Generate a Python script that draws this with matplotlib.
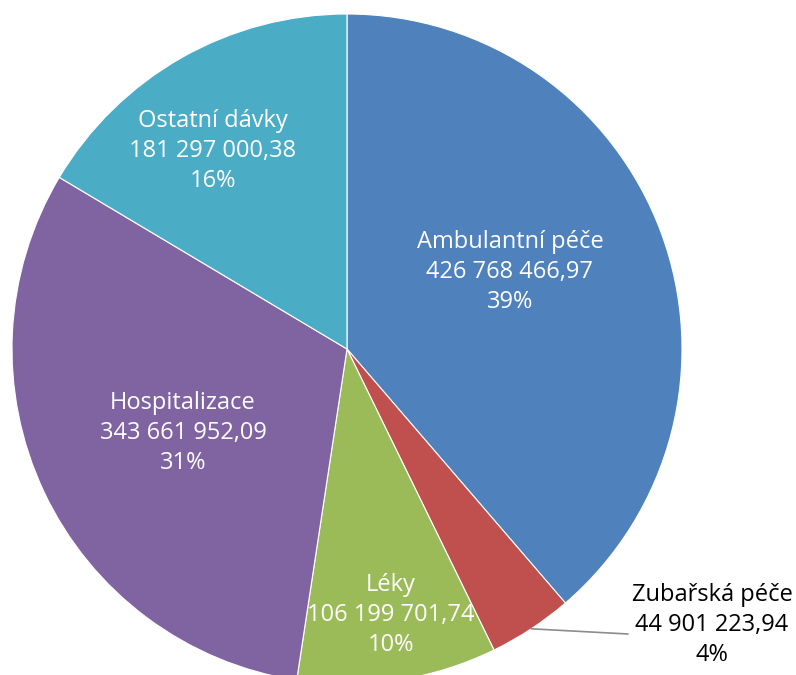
import numpy as np
import matplotlib
matplotlib.use("Agg")
import matplotlib.pyplot as plt

categories = ["Ambulantní péče", "Zubařská péče", "Léky", "Hospitalizace", "Ostatní dávky"]
values = [426768466.97, 44901223.94, 106199701.74, 343661952.09, 181297000.38]
value_labels = ["426 768 466,97", "44 901 223,94", "106 199 701,74", "343 661 952,09", "181 297 000,38"]
percent_labels = ["39%", "4%", "10%", "31%", "16%"]

colors = ["#4F81BD", "#C0504D", "#9BBB59", "#8064A2", "#4BACC6"]
# label centres in pixel coords (x, y from top)
label_pos = [(510, 272), (712, 625), (391, 615), (183, 433), (213, 151)]
label_color = ["white", "black", "white", "white", "white"]

W, H = 796, 675
fig = plt.figure(figsize=(W / 100, H / 100), dpi=100)
ax = fig.add_axes([0, 0, 1, 1])

cx, cy, R = 347, H - 349, 335
wedges, _ = ax.pie(values, colors=colors, startangle=90, counterclock=False,
                   center=(cx, cy), radius=R, frame=True,
                   wedgeprops=dict(edgecolor="white", linewidth=0.8))
ax.set_xlim(0, W)
ax.set_ylim(0, H)
ax.set_aspect("equal")
ax.axis("off")

for i, cat in enumerate(categories):
    x, y = label_pos[i]
    ax.text(x, H - y, f"{cat}\n{value_labels[i]}\n{percent_labels[i]}",
            ha="center", va="center", fontsize=17, color=label_color[i],
            linespacing=1.33, family=["Open Sans", "DejaVu Sans"])

# leader line for the small slice
w = wedges[1]
mid = np.deg2rad((w.theta1 + w.theta2) / 2)
x0, y0 = cx + R * np.cos(mid), cy + R * np.sin(mid)
ax.plot([x0, 628], [y0, H - 634], color="#8C8C8C", lw=1.2, solid_capstyle="round")

fig.savefig("out.png", dpi=100)
